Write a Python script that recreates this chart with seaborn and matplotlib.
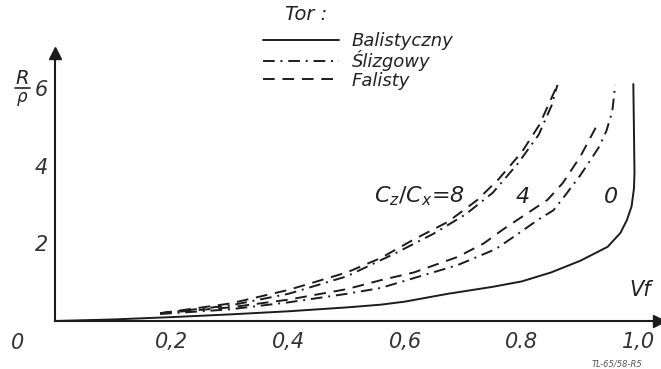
import numpy as np
import pandas as pd
import matplotlib
matplotlib.use("Agg")
import matplotlib.pyplot as plt
from matplotlib.lines import Line2D
import seaborn as sns

# wartosci: Vf -> R/rho
vf_bal = [0.0, 0.1, 0.2, 0.3, 0.4, 0.5, 0.558, 0.6, 0.673, 0.75, 0.8, 0.85, 0.9,
          0.947, 0.969, 0.98, 0.988, 0.992, 0.993, 0.992, 0.991]
r_bal = [0.0, 0.04, 0.1, 0.17, 0.25, 0.35, 0.42, 0.5, 0.7, 0.88, 1.02, 1.25, 1.55,
         1.91, 2.27, 2.6, 2.95, 3.4, 3.8, 5.0, 6.1]

vf_fal8 = [0.18, 0.3, 0.4, 0.5, 0.558, 0.615, 0.673, 0.724, 0.76, 0.8, 0.83, 0.861]
r_fal8 = [0.2, 0.45, 0.8, 1.25, 1.62, 2.1, 2.55, 3.12, 3.65, 4.35, 5.05, 6.08]

vf_sl8 = [0.18, 0.3, 0.4, 0.5, 0.584, 0.649, 0.704, 0.75, 0.793, 0.829, 0.851, 0.861]
r_sl8 = [0.2, 0.4, 0.7, 1.15, 1.75, 2.25, 2.75, 3.3, 4.05, 4.8, 5.55, 6.08]

vf_fal4 = [0.18, 0.3, 0.4, 0.5, 0.558, 0.615, 0.69, 0.735, 0.767, 0.81, 0.844, 0.87,
           0.9, 0.932]
r_fal4 = [0.2, 0.35, 0.55, 0.82, 1.05, 1.25, 1.65, 2.0, 2.35, 2.78, 3.12, 3.55,
          4.23, 5.13]

vf_sl4 = [0.18, 0.3, 0.4, 0.5, 0.558, 0.69, 0.755, 0.793, 0.827, 0.854, 0.875, 0.9,
          0.918, 0.933, 0.945, 0.955, 0.96]
r_sl4 = [0.18, 0.3, 0.48, 0.7, 0.85, 1.44, 1.85, 2.24, 2.6, 2.85, 3.25, 3.75,
         4.15, 4.5, 4.9, 5.4, 6.08]

x_ticks = [0.2, 0.4, 0.6, 0.8, 1.0]
x_labels = ["0,2", "0,4", "0,6", "0.8", "1,0"]
y_ticks = [2, 4, 6]
y_labels = ["2", "4", "6"]

tory = ["Balistyczny", "Ślizgowy", "Falisty"]

frames = []
for name, tor, xs, ys in [("bal0", "Balistyczny", vf_bal, r_bal),
                          ("sl8", "Ślizgowy", vf_sl8, r_sl8),
                          ("fal8", "Falisty", vf_fal8, r_fal8),
                          ("sl4", "Ślizgowy", vf_sl4, r_sl4),
                          ("fal4", "Falisty", vf_fal4, r_fal4)]:
    frames.append(pd.DataFrame({"vf": xs, "r": ys, "krzywa": name, "tor": tor}))
df = pd.concat(frames, ignore_index=True)

sns.set_theme(style="white")
plt.rcParams["font.family"] = ["DejaVu Sans"]
plt.rcParams["mathtext.fontset"] = "dejavusans"

ink = "#1c1c1c"
txt = "#222222"
kreski = {"Balistyczny": "", "Ślizgowy": (6, 3, 1, 3), "Falisty": (6, 4)}

fig = plt.figure(figsize=(6.61, 3.69), dpi=100)
ax = fig.add_axes([55 / 661, 48 / 369, 604 / 661, 268 / 369])

sns.lineplot(data=df, x="vf", y="r", style="tor", units="krzywa", estimator=None,
             sort=False, dashes=kreski, color=ink, linewidth=1.4, legend=False, ax=ax)

ax.set_xlim(0, 1.035)
ax.set_ylim(0, 6.9)
ax.set_xlabel("")
ax.set_ylabel("")
for s in ["top", "right"]:
    ax.spines[s].set_visible(False)
for s in ["left", "bottom"]:
    ax.spines[s].set_color(ink)
    ax.spines[s].set_linewidth(1.5)

ax.set_xticks(x_ticks)
ax.set_xticklabels(x_labels, fontstyle="italic", fontsize=15, color="#333333")
ax.set_yticks(y_ticks)
ax.set_yticklabels(y_labels, fontstyle="italic", fontsize=15, color="#333333")
ax.tick_params(axis="x", direction="in", length=3, width=1, color=ink, pad=8)
ax.tick_params(axis="y", direction="out", length=3, width=1, color=ink, pad=2)

# strzalki na osiach
ax.plot(1, 0, ">", color=ink, markersize=8, transform=ax.get_yaxis_transform(),
        clip_on=False)
ax.plot(0, 1, "^", color=ink, markersize=8, transform=ax.get_xaxis_transform(),
        clip_on=False)

# legenda
handles = [Line2D([], [], color=ink, linewidth=1.4,
                  linestyle=(0, kreski[t]) if kreski[t] else "-") for t in tory]
fig.legend(handles, tory, loc="upper left", bbox_to_anchor=(263 / 661, 1 - 32 / 369),
           frameon=False, prop={"style": "italic", "size": 13}, handlelength=4.2,
           handletextpad=0.7, labelspacing=0.02, borderpad=0, borderaxespad=0,
           labelcolor=txt)
fig.text(285 / 661, 1 - 15 / 369, "Tor :", fontsize=14, fontstyle="italic",
         color=txt, va="center")

# opisy
fig.text(22 / 661, 1 - 78 / 369, "R", fontsize=14, fontstyle="italic", color=txt,
         ha="center", va="center")
fig.add_artist(Line2D([15 / 661, 30 / 661], [1 - 88 / 369, 1 - 88 / 369], color=txt,
                      linewidth=1.2))
fig.text(22 / 661, 1 - 97 / 369, "ρ", fontsize=12, fontstyle="italic", color=txt,
         ha="center", va="center")
fig.text(18 / 661, 1 - 343 / 369, "0", fontsize=15, fontstyle="italic", color="#333333",
         ha="center", va="center")
fig.text(640 / 661, 1 - 290 / 369, "Vf", fontsize=15, fontstyle="italic", color=txt,
         ha="center", va="center")
fig.text(419 / 661, 1 - 196 / 369, r"$C_z/C_x$=8", fontsize=16, fontstyle="italic",
         color=txt, ha="center", va="center")
ax.text(0.801, 3.2, "4", fontsize=16, fontstyle="italic", color=txt,
        ha="center", va="center")
ax.text(0.952, 3.2, "0", fontsize=16, fontstyle="italic", color=txt,
        ha="center", va="center")
fig.text(617 / 661, 1 - 364 / 369, "TL-65/58-R5", fontsize=6, fontstyle="italic",
         color="#555555", ha="center", va="center")

fig.savefig("out.png", dpi=100)
